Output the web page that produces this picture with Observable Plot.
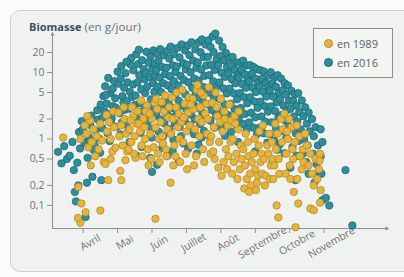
<!DOCTYPE html>
<html><head><meta charset="utf-8">
<script src="https://cdn.jsdelivr.net/npm/d3@7"></script>
<script src="https://cdn.jsdelivr.net/npm/@observablehq/plot@0.6"></script>
<style>
body{margin:0;background:#fafbfa;width:404px;height:277px;overflow:hidden;font-family:"Open Sans",sans-serif;position:relative;}
#card{position:absolute;left:10px;top:10px;width:410px;height:262px;background:#eff2f0;border:1px solid #cdd1ce;border-radius:10px;box-sizing:border-box;}
#chart{position:absolute;left:0;top:0;}
#title{position:absolute;left:29px;top:19px;font-size:11.5px;color:#6a6d70;white-space:nowrap;letter-spacing:0.1px;}
#title b{color:#3e4e64;font-weight:700;font-size:11px;letter-spacing:0;}
#legend{position:absolute;left:313px;top:28px;width:80px;height:50px;border:1px solid #8e8e8e;box-sizing:border-box;background:#f3f5f3;font-size:11px;color:#5a5e62;}
.item{position:absolute;left:10px;display:flex;align-items:center;white-space:nowrap;}
.sw{display:inline-block;width:9px;height:9px;border-radius:50%;margin-right:4px;box-sizing:border-box;border:1px solid;}
</style></head>
<body>
<div id="card"></div>
<div id="chart"></div>
<div id="title"><b>Biomasse</b> (en g/jour)</div>
<div id="legend"></div>
<script>
const monthLabels = ["Avril","Mai","Juin","Juillet","Août","Septembre","Octobre","Novembre"];
const monthTicks = [4,5,6,7,8,9,10,11];
const yTicks = [0.1,0.2,0.5,1,2,5,10,20];
const seriesNames = ["en 1989","en 2016"];
const seriesFill = ["#e4b43c","#2e8e9b"];
const seriesStroke = ["#b88a2a","#1f6873"];
const xDomain = [3.11, 12.87];
const yDomain = [0.045, 40];

// [month, biomass g/jour] — 2016
const points2016 = [
[3.27,0.64],[3.37,0.43],[3.45,0.78],[3.53,0.5],
[3.61,0.56],[3.69,0.9],[3.73,0.34],[3.76,0.16],[3.79,0.115],[3.86,0.2],[3.88,1.27],[3.91,0.72],[3.83,0.44],
[3.96,1.85],[3.99,1.4],[4.07,0.067],[4.11,0.22],[4.27,0.27],[4.04,0.88],[4.16,1.08],[4.21,1.62],[4.13,0.52],[4.24,2.25],[4.31,0.68],[4.19,0.95],
[4.36,1.33],[4.43,1.95],[4.53,0.24],[4.41,2.7],[4.51,3.3],[4.46,1.02],[4.56,1.45],[4.59,4.4],[4.34,0.79],[4.49,0.62],[4.57,2.1],
[4.73,8.3],[4.79,4.9],[4.64,6.2],[4.69,3.4],[4.76,2.35],[4.81,1.75],[4.86,5.7],[4.71,1.22],[4.87,3.1],[4.9,7.4],[4.66,4.6],[4.83,2.05],[4.77,0.93],[4.62,2.6],
[4.95,2.95],[5.03,6.8],[5.0,10.3],[5.09,8.1],[5.14,4.4],[5.06,2.45],[5.13,1.78],[5.19,5.9],[4.97,1.52],[5.17,3.55],[5.08,1.17],[5.21,2.75],[4.93,4.1],[5.11,12.5],
[5.23,9.8],[5.4,16.5],[5.46,10.8],[5.29,7.1],[5.36,5.1],[5.27,3.75],[5.42,4.3],[5.33,2.85],[5.49,2.15],[5.25,1.68],[5.45,6.6],[5.38,13.2],[5.31,1.32],[5.5,3.25],[5.35,0.9],[5.26,14.5],
[5.6,13.4],[5.54,18.8],[5.71,15.3],[5.63,9.1],[5.76,11.2],[5.58,7.1],[5.69,5.6],[5.79,7.9],[5.52,4.5],[5.65,3.45],[5.73,2.62],[5.8,4.9],[5.57,2.02],[5.77,1.58],[5.67,1.24],[5.55,0.56],[5.7,0.76],[5.62,22],
[5.84,20.5],[5.96,17.2],[6.04,21.5],[5.9,14.1],[6.01,11.3],[5.82,9.8],[6.08,13.5],[5.93,8.6],[6.03,6.9],[5.86,6.1],[6.07,5.1],[5.97,3.95],[5.83,3.15],[6.05,3.05],[5.92,2.38],[6.1,2.25],[5.88,1.82],[6.0,1.43],[5.95,0.52],[6.0,0.32],[5.99,1.05],[6.09,8.9],
[6.14,19.5],[6.24,22.5],[6.34,18.2],[6.19,15.2],[6.29,12.1],[6.12,10.8],[6.38,9.4],[6.22,8.4],[6.32,6.9],[6.16,6.1],[6.27,5.05],[6.37,3.95],[6.18,3.45],[6.31,2.85],[6.12,2.42],[6.25,1.97],[6.36,1.72],[6.2,1.28],[6.3,0.74],[6.15,0.41],[6.33,1.1],[6.23,3.0],
[6.44,21.2],[6.54,24.5],[6.64,18.9],[6.5,16.2],[6.61,12.8],[6.42,11.8],[6.68,10.2],[6.52,8.8],[6.63,7.4],[6.46,6.4],[6.57,5.6],[6.67,4.4],[6.48,3.55],[6.59,2.95],[6.43,2.45],[6.56,2.15],[6.66,1.76],[6.51,1.42],[6.62,0.98],[6.45,0.56],[6.6,0.66],[6.55,1.2],
[6.74,23.5],[6.86,26.5],[6.96,21.5],[6.8,16.8],[6.91,13.8],[6.72,12.3],[6.98,11.2],[6.83,8.9],[6.93,7.7],[6.76,6.4],[6.88,5.4],[6.97,4.7],[6.78,3.75],[6.9,3.15],[6.72,2.62],[6.85,2.18],[6.95,1.88],[6.8,1.52],[6.91,0.86],[6.78,0.46],[6.84,1.1],
[7.04,25.5],[7.15,28.5],[7.26,22.3],[7.09,18.2],[7.2,15.1],[7.02,13.1],[7.29,11.8],[7.12,10.1],[7.23,8.1],[7.06,7.1],[7.17,5.9],[7.27,4.75],[7.08,3.95],[7.2,3.35],[7.01,2.78],[7.14,2.32],[7.25,1.98],[7.1,1.62],[7.22,1.18],[7.05,0.71],[7.3,0.6],[7.18,1.4],
[7.36,28.5],[7.45,31.5],[7.56,26.3],[7.41,20.2],[7.5,17.1],[7.33,14.2],[7.58,12.8],[7.43,11.1],[7.52,8.9],[7.35,7.6],[7.48,6.1],[7.57,5.05],[7.38,4.15],[7.49,3.55],[7.32,2.98],[7.46,2.52],[7.55,2.08],[7.4,1.68],[7.51,1.32],[7.35,0.82],[7.44,1.05],
[7.64,30.5],[7.76,35],[7.84,38.5],[7.7,24.2],[7.79,20.3],[7.62,17.2],[7.88,15.8],[7.72,13.1],[7.82,10.9],[7.66,9.1],[7.78,7.4],[7.87,6.05],[7.68,4.95],[7.8,4.05],[7.63,3.28],[7.74,2.72],[7.86,2.28],[7.7,1.88],[7.81,1.48],[7.65,1.12],
[7.95,30.2],[8.05,24.3],[8.15,19.6],[8.0,17.8],[8.1,15.2],[7.92,12.8],[8.18,12.1],[8.02,9.9],[8.12,8.6],[7.96,7.1],[8.08,5.75],[8.17,4.85],[7.98,3.95],[8.11,3.32],[7.92,2.68],[8.05,2.32],[8.15,1.92],[8.0,1.52],[8.12,1.12],
[8.25,16.2],[8.34,17.2],[8.45,14.1],[8.3,12.6],[8.4,10.9],[8.22,9.8],[8.48,9.1],[8.32,7.9],[8.42,6.9],[8.25,5.7],[8.38,4.85],[8.47,3.95],[8.28,3.38],[8.4,2.82],[8.22,2.28],[8.35,1.98],[8.45,1.62],[8.3,1.28],[8.5,0.9],
[8.55,14.2],[8.65,15.1],[8.75,12.8],[8.6,11.1],[8.7,9.4],[8.52,8.4],[8.78,7.9],[8.62,6.7],[8.72,5.9],[8.55,4.9],[8.68,4.25],[8.77,3.45],[8.58,2.92],[8.7,2.38],[8.52,2.02],[8.65,1.68],[8.75,1.38],
[8.85,12.9],[8.95,12.1],[9.05,11.2],[8.9,9.6],[9.0,8.1],[8.82,7.3],[9.08,6.9],[8.92,5.9],[9.02,5.1],[8.85,4.25],[8.98,3.65],[9.07,2.95],[8.88,2.48],[9.0,2.12],[8.82,1.78],[8.95,1.48],[9.05,1.18],[9.0,0.65],
[9.15,10.8],[9.25,10.4],[9.35,8.9],[9.2,8.1],[9.3,6.9],[9.12,6.1],[9.38,6.1],[9.22,5.15],[9.32,4.35],[9.15,3.65],[9.28,3.12],[9.37,2.58],[9.18,2.18],[9.3,1.82],[9.12,1.48],[9.25,1.22],[9.35,0.88],
[9.45,10.1],[9.55,8.4],[9.65,9.1],[9.5,6.9],[9.6,6.1],[9.42,5.4],[9.68,4.9],[9.52,4.35],[9.62,3.55],[9.45,3.08],[9.58,2.62],[9.67,2.08],[9.48,1.78],[9.6,1.46],[9.42,1.18],[9.55,0.94],[9.65,0.69],[9.5,0.45],
[9.75,8.1],[9.85,6.9],[9.95,6.4],[9.8,5.4],[9.9,4.65],[9.72,3.95],[9.98,3.75],[9.82,3.18],[9.92,2.72],[9.75,2.28],[9.88,1.88],[9.97,1.58],[9.78,1.32],[9.9,1.04],[9.72,0.84],[9.85,0.61],
[10.05,5.3],[10.15,4.7],[10.25,4.9],[10.1,3.75],[10.2,3.15],[10.02,2.85],[10.28,2.55],[10.12,2.18],[10.22,1.82],[10.05,1.48],[10.18,1.22],[10.27,0.94],[10.08,0.76],[10.2,0.56],[10.02,0.37],[10.17,0.24],
[10.35,3.8],[10.45,3.0],[10.55,2.5],[10.4,2.2],[10.5,1.7],[10.32,1.4],[10.58,1.3],[10.42,1.0],[10.52,0.8],[10.38,0.6],[10.48,0.45],[10.55,0.3],
[10.65,2.0],[10.75,1.5],[10.7,1.1],[10.82,0.8],[10.68,0.6],[10.78,0.42],[10.85,0.3],[10.72,0.22],
[10.9,1.4],[10.95,0.9],[10.9,0.55],[10.92,0.3],[10.95,0.12],[11.15,0.1],[11.05,0.13],
[11.62,0.34],[11.82,0.05]
];

// [month, biomass g/jour] — 1989
const points1989 = [
[3.42,1.05],[3.92,1.0],[3.86,0.19],[3.95,0.107],[4.07,0.079],[3.92,0.055],[3.85,0.065],[4.5,0.084],
[4.05,1.6],[4.1,1.2],[4.15,0.75],[4.2,1.9],[4.25,0.9],[4.3,1.4],[4.35,0.55],[4.4,1.1],[4.45,0.7],[4.5,1.7],[4.55,0.95],[4.6,0.45],[4.22,0.4],[4.12,2.2],
[4.65,0.42],[4.73,0.24],[4.7,1.3],[4.8,1.0],[4.75,1.8],[4.85,0.65],[4.9,1.5],[4.94,0.74],[4.68,2.3],[4.88,2.6],[4.8,0.5],
[5.08,0.33],[5.11,0.24],[5.23,0.48],[5.05,1.1],[5.1,1.6],[5.15,0.8],[5.2,2.0],[5.25,1.2],[5.02,2.5],[5.18,3.0],[5.28,0.65],
[5.52,0.52],[5.35,1.4],[5.4,0.9],[5.45,2.2],[5.5,1.1],[5.55,1.7],[5.32,0.7],[5.42,3.0],[5.58,2.6],[5.48,0.6],[5.38,1.9],
[5.65,1.3],[5.7,0.8],[5.75,2.0],[5.8,1.0],[5.85,3.2],[5.62,1.7],[5.72,0.55],[5.82,2.6],[5.88,0.7],[5.68,3.8],[5.78,1.5],[5.9,0.4],
[6.1,0.063],[5.95,1.2],[6.0,2.0],[6.05,0.75],[6.1,1.5],[6.15,2.8],[5.98,0.5],[6.08,3.5],[6.2,1.0],[6.18,0.6],[5.93,2.4],[6.12,4.0],
[6.25,1.8],[6.3,1.1],[6.35,2.6],[6.4,0.7],[6.45,1.4],[6.28,3.6],[6.38,4.5],[6.22,0.45],[6.48,2.1],[6.42,0.55],[6.32,0.85],[6.5,3.0],
[6.54,0.22],[6.55,1.2],[6.6,2.0],[6.65,0.8],[6.7,3.0],[6.75,1.5],[6.58,4.2],[6.68,0.55],[6.78,2.4],[6.62,0.4],[6.72,5.0],[6.8,1.0],
[6.85,1.8],[6.9,0.9],[6.95,3.4],[7.0,1.3],[7.05,2.5],[6.88,5.5],[6.98,0.6],[7.08,4.2],[6.82,0.45],[7.02,0.35],[6.92,2.1],[7.1,1.6],
[7.15,0.8],[7.2,2.8],[7.25,1.4],[7.3,5.5],[7.35,2.0],[7.18,4.0],[7.28,0.55],[7.38,1.1],[7.12,3.3],[7.22,0.4],[7.32,6.5],[7.4,3.0],
[7.45,1.8],[7.5,4.5],[7.55,2.4],[7.6,1.2],[7.65,6.0],[7.48,0.7],[7.58,3.4],[7.68,0.9],[7.42,5.0],[7.52,0.45],[7.62,2.0],[7.7,0.6],
[7.93,0.37],[7.75,3.5],[7.8,1.5],[7.85,5.0],[7.9,2.2],[7.95,0.9],[7.78,0.65],[7.88,3.0],[7.72,1.1],[7.98,1.8],[7.82,0.5],[8.0,4.0],
[8.05,1.3],[8.1,2.6],[8.15,0.7],[8.2,1.6],[8.25,3.3],[8.08,0.45],[8.18,0.35],[8.28,0.9],[8.12,2.0],[8.22,0.55],[8.3,1.9],[8.02,0.28],
[8.35,1.0],[8.4,2.2],[8.45,0.6],[8.5,1.4],[8.55,0.35],[8.38,0.45],[8.48,0.25],[8.58,0.8],[8.42,1.7],[8.52,2.6],[8.6,0.5],[8.33,0.3],
[8.65,0.7],[8.7,0.4],[8.75,0.25],[8.8,0.55],[8.85,0.3],[8.68,0.18],[8.78,0.9],[8.88,0.2],[8.72,1.2],[8.82,0.16],[8.9,0.45],
[8.95,0.6],[9.0,0.35],[9.05,0.22],[9.1,0.8],[9.15,0.45],[8.98,1.0],[9.08,0.28],[9.18,0.6],[9.02,0.17],[9.12,1.3],[9.2,0.3],
[9.25,0.5],[9.3,0.28],[9.35,0.8],[9.4,1.2],[9.45,0.4],[9.28,0.2],[9.38,0.6],[9.48,0.9],[9.22,1.6],[9.42,0.25],[9.5,0.5],
[9.62,0.1],[9.67,0.066],[9.55,0.4],[9.6,0.7],[9.65,1.2],[9.7,0.3],[9.75,2.0],[9.58,1.7],[9.68,0.5],[9.78,0.9],[9.52,0.25],[9.8,1.4],
[9.85,2.4],[9.9,0.6],[9.95,1.0],[10.0,0.4],[10.05,1.5],[9.88,0.3],[9.98,2.0],[10.08,0.7],[9.92,1.3],[10.02,0.25],[10.1,0.5],
[10.17,0.047],[10.25,0.107],[10.15,0.9],[10.2,1.6],[10.3,0.55],[10.35,0.35],[10.22,0.25],[10.28,1.1],[10.38,0.7],[10.12,0.16],[10.4,0.45],
[10.5,0.8],[10.55,0.4],[10.6,0.6],[10.65,0.3],[10.7,0.2],[10.75,0.5],[10.8,0.25],[10.85,0.35],[10.88,0.6],[10.87,0.47],[10.9,0.17],[10.88,0.11],[10.45,1.2],[10.6,0.09],[10.7,0.085]
];

const fmt = d => String(d).replace(".", ",");
const axisColor = "#8d9091";
const labelColor = "#6f7275";
const chart = Plot.plot({
  width: 404, height: 277,
  marginLeft: 52, marginRight: 16, marginTop: 32, marginBottom: 49,
  style: {background: "transparent", fontFamily: "'Open Sans', sans-serif", fontSize: "10px", color: labelColor},
  x: {domain: xDomain},
  y: {type: "log", domain: yDomain},
  marks: [
    Plot.axisY({ticks: yTicks, tickFormat: () => "", tickSize: 5, label: null, stroke: axisColor}),
    Plot.text(yTicks, {y: d => d, frameAnchor: "left", dx: -8, textAnchor: "end", text: fmt, fill: labelColor, fontSize: 10.5}),
    Plot.axisX({ticks: monthTicks, tickFormat: () => "", tickSize: 5, label: null, stroke: axisColor}),
    Plot.arrow([0], {x1: xDomain[0], x2: xDomain[1], y1: yDomain[0], y2: yDomain[0], stroke: axisColor, strokeWidth: 1, headLength: 5, headAngle: 50}),
    Plot.arrow([0], {x1: xDomain[0], x2: xDomain[0], y1: yDomain[0], y2: yDomain[1], stroke: axisColor, strokeWidth: 1, headLength: 5, headAngle: 50}),
    Plot.text(monthLabels, {x: (d, i) => monthTicks[i], frameAnchor: "bottom", text: d => d, dy: 17, dx: 9, rotate: -30, textAnchor: "middle", fill: labelColor, fontSize: 10.5}),
    Plot.dot(points2016, {x: d => d[0], y: d => d[1], r: 3.7, fill: seriesFill[1], stroke: seriesStroke[1], strokeWidth: 0.8}),
    Plot.dot(points1989, {x: d => d[0], y: d => d[1], r: 3.7, fill: seriesFill[0], stroke: seriesStroke[0], strokeWidth: 0.8})
  ]
});
document.getElementById("chart").appendChild(chart);

const leg = document.getElementById("legend");
seriesNames.forEach((name, i) => {
  const it = document.createElement("div");
  it.className = "item";
  it.style.top = (i === 0 ? 7 : 26) + "px";
  const sw = document.createElement("span");
  sw.className = "sw";
  sw.style.background = seriesFill[i];
  sw.style.borderColor = seriesStroke[i];
  it.appendChild(sw);
  it.appendChild(document.createTextNode(name));
  leg.appendChild(it);
});
</script>
</body></html>
